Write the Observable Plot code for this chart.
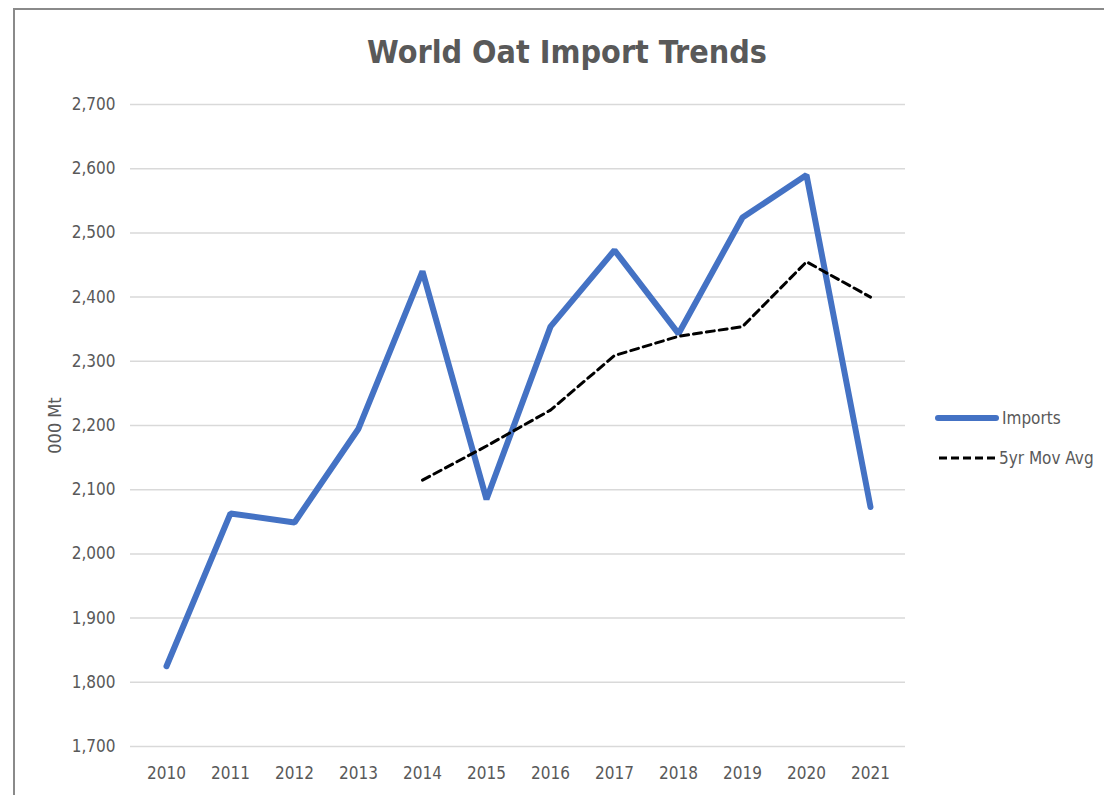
<!DOCTYPE html>
<html>
<head>
<meta charset="utf-8">
<script src="https://cdn.jsdelivr.net/npm/d3@7"></script>
<script src="https://cdn.jsdelivr.net/npm/@observablehq/plot@0.6"></script>
<style>
  html, body { margin: 0; padding: 0; background: #fff; }
  #wrap { position: relative; width: 1104px; height: 795px; overflow: hidden; background: #fff;
          font-family: "Liberation Sans Narrow", "DejaVu Sans Condensed", sans-serif; }
  #frame { position: absolute; left: 13px; top: 8px; width: 1200px; height: 900px;
           border-left: 2px solid #8a8a8a; border-top: 2px solid #8a8a8a; }
  #title { position: absolute; left: 0; width: 1134px; top: 33px; text-align: center;
           font-size: 32px; font-weight: bold; color: #595959; }
  #chart { position: absolute; left: 0; top: 0; }
  .leg { position: absolute; display: flex; align-items: center; font-size: 17px; color: #595959; }
  .leg svg { margin-right: 2px; }
</style>
</head>
<body>
<div id="wrap">
  <div id="frame"></div>
  <div id="chart"></div>
  <div id="title">World Oat Import Trends</div>
  <div class="leg" id="leg1" style="left:934px; top:408px;"></div>
  <div class="leg" id="leg2" style="left:937px; top:448px;"></div>
</div>
<script>
const years = [2010, 2011, 2012, 2013, 2014, 2015, 2016, 2017, 2018, 2019, 2020, 2021];
const imports = [1825, 2063, 2049, 2195, 2440, 2085, 2354, 2473, 2343, 2524, 2590, 2073];
const avgYears = [2014, 2015, 2016, 2017, 2018, 2019, 2020, 2021];
const movAvg = [2115, 2168, 2224, 2309, 2339, 2354, 2455, 2400];
const yTicks = [1700, 1800, 1900, 2000, 2100, 2200, 2300, 2400, 2500, 2600, 2700];
const seriesNames = ["Imports", "5yr Mov Avg"];
const yLabel = "000 Mt";

const importData = years.map((y, i) => ({year: y, value: imports[i]}));
const avgData = avgYears.map((y, i) => ({year: y, value: movAvg[i]}));

const chart = Plot.plot({
  width: 1104,
  height: 795,
  marginTop: 104,
  marginBottom: 49,
  marginLeft: 130,
  marginRight: 199,
  style: {fontFamily: '"Liberation Sans Narrow", "DejaVu Sans Condensed", sans-serif', fontSize: "17px", color: "#595959", background: "transparent"},
  x: {type: "point", domain: years, padding: 0.5},
  y: {domain: [1700, 2700]},
  marks: [
    Plot.gridY(yTicks, {stroke: "#d9d9d9", strokeOpacity: 1, strokeWidth: 1.5}),
    Plot.axisY(yTicks, {tickSize: 0, tickPadding: 15, tickFormat: d3.format(","), label: yLabel, labelAnchor: "center", labelArrow: "none", labelOffset: 82, fontSize: 17}),
    Plot.axisX(years, {tickSize: 0, tickPadding: 20, tickFormat: d => String(d), label: null, fontSize: 17}),
    Plot.line(importData, {x: "year", y: "value", stroke: "#4472C4", strokeWidth: 6, strokeLinejoin: "miter", strokeLinecap: "round", style: "filter: drop-shadow(1px 2px 2px rgba(0,0,0,0.25))"}),
    Plot.line(avgData, {x: "year", y: "value", stroke: "#000", strokeWidth: 3, strokeDasharray: "8,5"})
  ]
});
document.getElementById("chart").appendChild(chart);

// y-axis label styling
chart.querySelectorAll("text").forEach(t => {
  if (t.textContent === yLabel) { t.setAttribute("font-size", "18"); }
});

// legend
document.getElementById("leg1").innerHTML =
  `<svg width="66" height="10"><line x1="4" y1="5" x2="62" y2="5" stroke="#4472C4" stroke-width="6" stroke-linecap="round"/></svg><span>${seriesNames[0]}</span>`;
document.getElementById("leg2").innerHTML =
  `<svg width="60" height="10"><line x1="2" y1="5" x2="58" y2="5" stroke="#000" stroke-width="3" stroke-dasharray="8,4"/></svg><span>${seriesNames[1]}</span>`;
</script>
</body>
</html>
